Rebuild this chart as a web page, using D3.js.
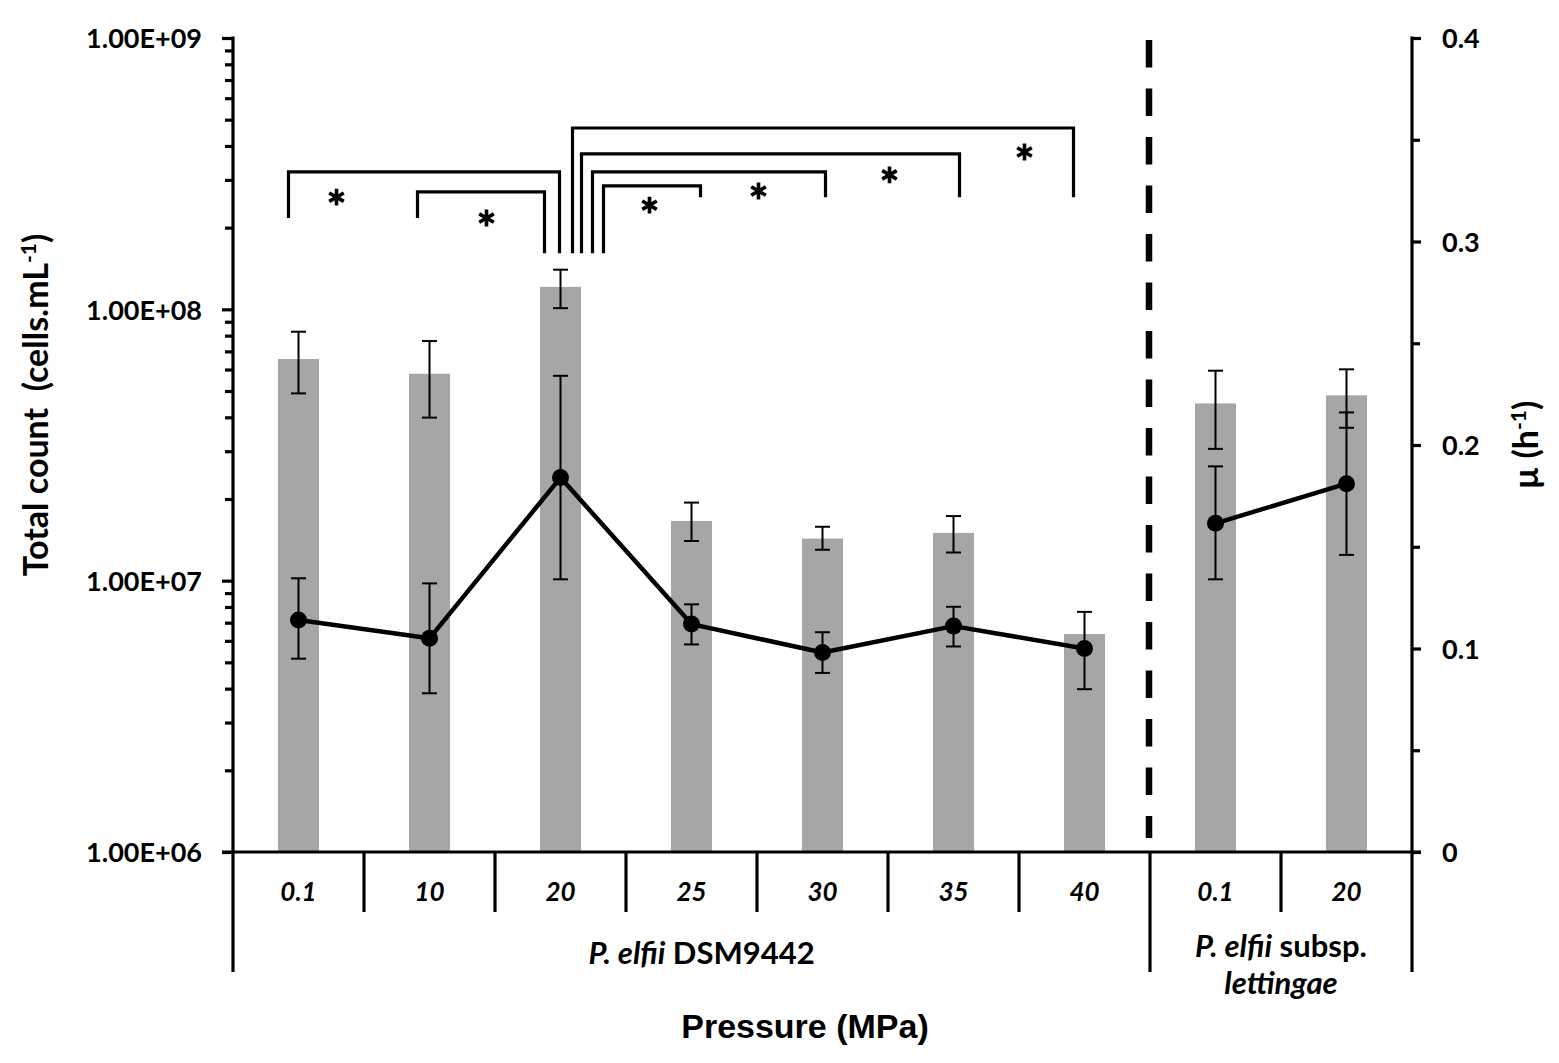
<!DOCTYPE html>
<html>
<head>
<meta charset="utf-8">
<script src="https://cdn.jsdelivr.net/npm/d3@7/dist/d3.min.js"></script>
<style>
  html, body { margin: 0; padding: 0; background: #fff; }
  svg { display: block; }
  .lbl { font-family: Lato, "Open Sans", "DejaVu Sans", sans-serif; font-weight: bold; fill: #000; white-space: pre; }
</style>
</head>
<body>
<svg id="chart" width="1559" height="1063"></svg>
<script>
// ---------------- data ----------------
const categories = ["0.1", "10", "20", "25", "30", "35", "40", "0.1", "20"];
const groupOf = [0, 0, 0, 0, 0, 0, 0, 1, 1];

// Total count (cells/mL) - bars, left log axis
const totalCount     = [6.56e7, 5.79e7, 1.21e8, 1.66e7, 1.43e7, 1.50e7, 6.36e6, 4.50e7, 4.82e7];
const totalCountLow  = [4.90e7, 3.99e7, 1.01e8, 1.40e7, 1.30e7, 1.27e7, null,   3.06e7, 3.66e7];
const totalCountHigh = [8.27e7, 7.64e7, 1.40e8, 1.94e7, 1.58e7, 1.73e7, null,   5.94e7, 6.01e7];

// Growth rate mu (h-1) - line, right axis
const growthRate     = [0.114, 0.105, 0.184, 0.112, 0.098, 0.111, 0.100, 0.1615, 0.181];
const growthLow      = [0.095, 0.078, 0.134, 0.102, 0.088, 0.101, 0.080, 0.134,  0.146];
const growthHigh     = [0.1345, 0.132, 0.234, 0.1217, 0.108, 0.1205, 0.118, 0.1895, 0.216];

// axis ticks
const leftMajorTicks = [1e6, 1e7, 1e8, 1e9];
const rightMajorTicks = [0, 0.1, 0.2, 0.3, 0.4];
const rightMinorTicks = [0.05, 0.15, 0.25, 0.35];

// significance comparisons: [from category, to category]
const comparisons = [[0, 2], [1, 2], [2, 6], [2, 5], [2, 4], [2, 3]];

// ---------------- layout ----------------
const plot = { left: 233, right: 1412, top: 38, bottom: 852 };
const svg = d3.select("#chart");

const x = d3.scaleBand()
  .domain(d3.range(categories.length))
  .range([plot.left, plot.right])
  .paddingInner(0.687)
  .paddingOuter(0.3435);
const step = x.step();
const cx = i => x(i) + x.bandwidth() / 2;

const yL = d3.scaleLog().domain([1e6, 1e9]).range([plot.bottom, plot.top]);
const yR = d3.scaleLinear().domain([0, 0.4]).range([plot.bottom, plot.top]);

const BAR = "#a6a6a6";
const AX_W = 3.2;

// ---------------- bars ----------------
svg.append("g").selectAll("rect")
  .data(totalCount)
  .join("rect")
  .attr("x", (d, i) => x(i))
  .attr("width", x.bandwidth())
  .attr("y", d => yL(d))
  .attr("height", d => yL(1e6) - yL(d))
  .attr("fill", BAR);

function errorBars(g, lows, highs, scale, capW, sw) {
  lows.forEach((lo, i) => {
    const hi = highs[i];
    if (lo == null || hi == null) return;
    const X = cx(i);
    g.append("line").attr("x1", X).attr("x2", X).attr("y1", scale(lo)).attr("y2", scale(hi))
      .attr("stroke", "#000").attr("stroke-width", sw);
    [lo, hi].forEach(v => {
      g.append("line").attr("x1", X - capW / 2).attr("x2", X + capW / 2)
        .attr("y1", scale(v)).attr("y2", scale(v))
        .attr("stroke", "#000").attr("stroke-width", sw);
    });
  });
}
errorBars(svg.append("g"), totalCountLow, totalCountHigh, yL, 15, 2);

// ---------------- line series ----------------
const lineGen = d3.line().x(d => cx(d.i)).y(d => yR(d.v));
const pts = growthRate.map((v, i) => ({ v, i, g: groupOf[i] }));
const gLine = svg.append("g");
d3.groups(pts, d => d.g).forEach(([g, arr]) => {
  gLine.append("path").attr("d", lineGen(arr))
    .attr("fill", "none").attr("stroke", "#000").attr("stroke-width", 4.5)
    .attr("stroke-linejoin", "round");
});
errorBars(svg.append("g"), growthLow, growthHigh, yR, 15, 2);
svg.append("g").selectAll("circle").data(pts).join("circle")
  .attr("cx", d => cx(d.i)).attr("cy", d => yR(d.v)).attr("r", 8.5).attr("fill", "#000");

// ---------------- dashed group separator ----------------
const groupBoundary = x(7) - (step - x.bandwidth()) / 2;
svg.append("line")
  .attr("x1", groupBoundary - 1).attr("x2", groupBoundary - 1)
  .attr("y1", plot.top + 2).attr("y2", plot.bottom - 14)
  .attr("stroke", "#000").attr("stroke-width", 6.5)
  .attr("stroke-dasharray", "27.5 21");

// ---------------- left axis ----------------
const minorLeft = [];
leftMajorTicks.slice(0, -1).forEach(p => { for (let k = 2; k <= 9; k++) minorLeft.push(p * k); });

const gL = svg.append("g").attr("transform", `translate(${plot.left},0)`);
gL.call(d3.axisLeft(yL).tickValues(minorLeft).tickSize(8).tickFormat(""));
gL.select(".domain").remove();
const gL2 = svg.append("g").attr("transform", `translate(${plot.left},0)`);
gL2.call(d3.axisLeft(yL).tickValues(leftMajorTicks).tickSize(11).tickPadding(20)
  .tickFormat(d => d.toExponential(2).toUpperCase().replace(/E\+(\d)$/, "E+0$1")));
gL2.select(".domain").remove();
[gL, gL2].forEach(g => g.selectAll(".tick line").attr("stroke", "#000").attr("stroke-width", AX_W));
gL2.selectAll(".tick text").attr("class", "lbl").style("font-size", "27px").attr("dy", "0.36em");

svg.append("line").attr("x1", plot.left).attr("x2", plot.left)
  .attr("y1", plot.top - 1.5).attr("y2", 972)
  .attr("stroke", "#000").attr("stroke-width", AX_W);

// ---------------- right axis ----------------
const gR = svg.append("g").attr("transform", `translate(${plot.right},0)`);
gR.call(d3.axisRight(yR).tickValues(rightMinorTicks).tickSize(8).tickFormat(""));
gR.select(".domain").remove();
const gR2 = svg.append("g").attr("transform", `translate(${plot.right},0)`);
gR2.call(d3.axisRight(yR).tickValues(rightMajorTicks).tickSize(9).tickPadding(21)
  .tickFormat(d => d === 0 ? "0" : d3.format(".1f")(d)));
gR2.select(".domain").remove();
[gR, gR2].forEach(g => g.selectAll(".tick line").attr("stroke", "#000").attr("stroke-width", AX_W));
gR2.selectAll(".tick text").attr("class", "lbl").style("font-size", "27px").attr("dy", "0.36em");
svg.append("line").attr("x1", plot.right).attr("x2", plot.right)
  .attr("y1", plot.top - 1.5).attr("y2", 972)
  .attr("stroke", "#000").attr("stroke-width", AX_W);

// ---------------- x axis / category table ----------------
svg.append("line").attr("x1", plot.left - 11).attr("x2", plot.right + 9)
  .attr("y1", plot.bottom).attr("y2", plot.bottom)
  .attr("stroke", "#000").attr("stroke-width", AX_W);

for (let k = 1; k < categories.length; k++) {
  const bx = x(k) - (step - x.bandwidth()) / 2;
  const isGroupEdge = groupOf[k] !== groupOf[k - 1];
  svg.append("line").attr("x1", bx).attr("x2", bx)
    .attr("y1", plot.bottom).attr("y2", isGroupEdge ? 972 : 912)
    .attr("stroke", "#000").attr("stroke-width", AX_W);
}

svg.append("g").selectAll("text").data(categories).join("text")
  .attr("class", "lbl")
  .attr("x", (d, i) => cx(i)).attr("y", 901)
  .attr("text-anchor", "middle")
  .style("font-size", "26px").style("font-style", "italic")
  .text(d => d);

// group labels
const g0mid = (plot.left + groupBoundary) / 2;
const g1mid = (groupBoundary + plot.right) / 2;
const t0 = svg.append("text").attr("class", "lbl").attr("x", g0mid + 10).attr("y", 964)
  .attr("text-anchor", "middle").style("font-size", "31px");
t0.append("tspan").style("font-style", "italic").text("P. elfii");
t0.append("tspan").text(" DSM9442");

const t1 = svg.append("text").attr("class", "lbl").attr("x", g1mid).attr("y", 957)
  .attr("text-anchor", "middle").style("font-size", "31px");
t1.append("tspan").style("font-style", "italic").text("P. elfii");
t1.append("tspan").text(" subsp.");
svg.append("text").attr("class", "lbl").attr("x", g1mid).attr("y", 994)
  .attr("text-anchor", "middle").style("font-size", "31px").style("font-style", "italic")
  .text("lettingae");

// axis titles
svg.append("text").attr("x", 805).attr("y", 1038).attr("text-anchor", "middle")
  .style("font-family", "'Liberation Sans', Arial, sans-serif").style("font-weight", "bold")
  .style("font-size", "34px").text("Pressure (MPa)");

const yt = svg.append("text").attr("class", "lbl")
  .attr("transform", "translate(48,405) rotate(-90)")
  .attr("text-anchor", "middle").style("font-size", "34px");
yt.append("tspan").text("Total count  (cells.mL");
yt.append("tspan").attr("dy", "-0.55em").style("font-size", "21px").text("-1");
yt.append("tspan").attr("dy", "0.35em").text(")");

const rt = svg.append("text").attr("class", "lbl")
  .attr("transform", "translate(1538,445) rotate(-90)")
  .attr("text-anchor", "middle").style("font-size", "34px");
rt.append("tspan").text("\u00b5 (h");
rt.append("tspan").attr("dy", "-0.55em").style("font-size", "21px").text("-1");
rt.append("tspan").attr("dy", "0.35em").text(")");

// ---------------- significance brackets ----------------
const bracketStyle = [
  { dxFrom: -10, dxTo: -1,  top: 3.21e8, endFrom: 2.17e8, endTo: 1.61e8, starDx: -224, starY: 2.59e8 },
  { dxFrom: -12, dxTo: -16, top: 2.71e8, endFrom: 2.17e8, endTo: 1.61e8, starDx: -74,  starY: 2.17e8 },
  { dxFrom: 12,  dxTo: -11, top: 4.66e8, endFrom: 1.61e8, endTo: 2.59e8, starDx: -60,  starY: 3.80e8 },
  { dxFrom: 21,  dxTo: 6,   top: 3.74e8, endFrom: 1.61e8, endTo: 2.59e8, starDx: -64,  starY: 3.13e8 },
  { dxFrom: 32,  dxTo: 3,   top: 3.21e8, endFrom: 1.61e8, endTo: 2.59e8, starDx: -64,  starY: 2.73e8 },
  { dxFrom: 43,  dxTo: 9,   top: 2.85e8, endFrom: 1.61e8, endTo: 2.59e8, starDx: -42,  starY: 2.42e8 }
];
const gB = svg.append("g");
const starPath = d3.symbolAsterisk ? d3.symbol(d3.symbolAsterisk, 200)() : null;
comparisons.forEach(([a, b], k) => {
  const s = bracketStyle[k];
  const xa = cx(a) + s.dxFrom, xb = cx(b) + s.dxTo;
  gB.append("path")
    .attr("d", `M${xa},${yL(s.endFrom)}V${yL(s.top)}H${xb}V${yL(s.endTo)}`)
    .attr("fill", "none").attr("stroke", "#000").attr("stroke-width", 3.2);
  const sx = cx(b) + s.starDx, sy = yL(s.starY);
  if (starPath) {
    gB.append("path").attr("d", starPath)
      .attr("transform", `translate(${sx},${sy})`)
      .attr("fill", "none").attr("stroke", "#000").attr("stroke-width", 3.6);
  } else {
    gB.append("text").attr("x", sx).attr("y", sy).attr("dy", "0.62em")
      .attr("text-anchor", "middle").style("font-size", "50px").style("font-weight", "bold").text("*");
  }
});
</script>
</body>
</html>
